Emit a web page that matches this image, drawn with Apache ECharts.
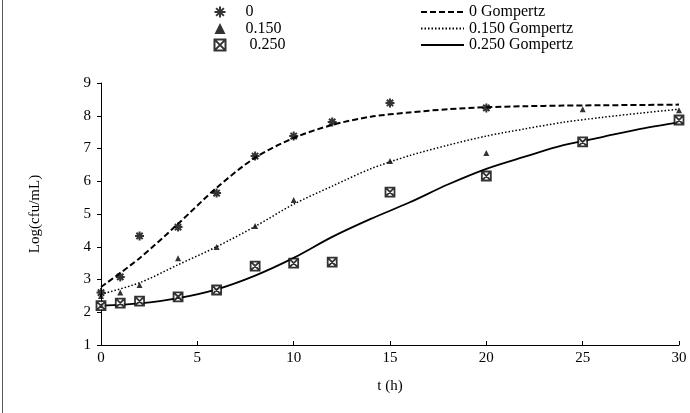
<!DOCTYPE html>
<html>
<head>
<meta charset="utf-8">
<script src="https://cdn.jsdelivr.net/npm/echarts@6/dist/echarts.min.js"></script>
<style>
  html, body { margin: 0; padding: 0; background: #fff; }
  #chart { width: 690px; height: 413px; }
</style>
</head>
<body>
<div id="chart"></div>
<script>
// observed points (t in h, log cfu/mL)
const obs0 = [[0, 2.6], [1, 3.08], [2, 4.33], [4, 4.6], [6, 5.64], [8, 6.77], [10, 7.38], [12, 7.81], [15, 8.39], [20, 8.24]];
const obs150 = [[0, 2.5], [1, 2.6], [2, 2.83], [4, 3.65], [6, 3.99], [8, 4.63], [10, 5.43], [15, 6.62], [20, 6.86], [25, 8.2], [30, 8.17]];
const obs250 = [[0, 2.2], [1, 2.28], [2, 2.34], [4, 2.47], [6, 2.68], [8, 3.41], [10, 3.5], [12, 3.53], [15, 5.67], [20, 6.16], [25, 7.2], [30, 7.87]];

// fitted Gompertz curves, every 2 h
const fitT = [0, 2, 4, 6, 8, 10, 12, 14, 16, 18, 20, 22, 24, 26, 28, 30];
const fit0 = [2.77, 3.65, 4.7, 5.8, 6.72, 7.32, 7.72, 7.97, 8.1, 8.2, 8.26, 8.29, 8.31, 8.32, 8.33, 8.34];
const fit150 = [2.55, 2.9, 3.45, 4.0, 4.62, 5.3, 5.85, 6.38, 6.78, 7.1, 7.38, 7.6, 7.8, 7.95, 8.08, 8.2];
const fit250 = [2.2, 2.27, 2.43, 2.7, 3.12, 3.66, 4.3, 4.85, 5.35, 5.9, 6.38, 6.75, 7.1, 7.35, 7.6, 7.8];

const names = ['0', '0.150', ' 0.250'];
const fitNames = ['0 Gompertz', '0.150 Gompertz', '0.250 Gompertz'];

const font = 'Liberation Serif, Times New Roman, serif';
const asterisk = 'path://M0,5L10,5M5,0L5,10M1.5,1.5L8.5,8.5M8.5,1.5L1.5,8.5';
const boxX = 'path://M0,0L10,0L10,10L0,10ZM1,1L9,9M9,1L1,9';

const pairs = (ys) => fitT.map((t, i) => [t, ys[i]]);

const chart = echarts.init(document.getElementById('chart'));

chart.setOption({
  animation: false,
  textStyle: { fontFamily: font, color: '#000' },
  grid: { left: 101, right: 11, top: 83, bottom: 68 },
  legend: [
    {
      data: names,
      orient: 'vertical',
      left: 212,
      top: 4,
      padding: 0,
      itemGap: 0.5,
      itemWidth: 11,
      itemHeight: 11,
      textStyle: { fontFamily: font, fontSize: 16, lineHeight: 15, color: '#000', padding: [0, 0, 0, 15] }
    },
    {
      data: fitNames,
      orient: 'vertical',
      left: 420,
      top: 4,
      padding: 0,
      itemGap: 0.5,
      itemWidth: 43,
      itemHeight: 11,
      textStyle: { fontFamily: font, fontSize: 16, lineHeight: 15, color: '#000' }
    }
  ],
  xAxis: {
    type: 'value',
    min: 0, max: 30, interval: 5,
    name: 't (h)',
    nameLocation: 'middle',
    nameGap: 34,
    nameTextStyle: { fontFamily: font, fontSize: 15, color: '#000' },
    axisLine: { lineStyle: { color: '#000', width: 1 } },
    axisTick: { inside: true, length: 4, lineStyle: { color: '#000' } },
    axisLabel: { fontFamily: font, fontSize: 15, color: '#000', margin: 6 },
    splitLine: { show: false }
  },
  yAxis: {
    type: 'value',
    min: 1, max: 9, interval: 1,
    name: 'Log(cfu/mL)',
    nameLocation: 'middle',
    nameGap: 58,
    nameTextStyle: { fontFamily: font, fontSize: 15, color: '#000' },
    axisLine: { show: true, lineStyle: { color: '#000', width: 1 } },
    axisTick: { show: true, length: 4, lineStyle: { color: '#000' } },
    axisLabel: { fontFamily: font, fontSize: 15, color: '#000', margin: 10 },
    splitLine: { show: false }
  },
  graphic: [
    { type: 'line', shape: { x1: 2.5, y1: 0, x2: 2.5, y2: 413 }, style: { stroke: '#555', lineWidth: 1 } }
  ],
  series: [
    {
      name: fitNames[0], type: 'line', data: pairs(fit0), smooth: 0.3, symbol: 'none',
      itemStyle: { color: 'rgba(0,0,0,0)' },
      lineStyle: { color: '#000', width: 2, type: [6, 3] }, z: 2
    },
    {
      name: fitNames[1], type: 'line', data: pairs(fit150), smooth: 0.3, symbol: 'none',
      itemStyle: { color: 'rgba(0,0,0,0)' },
      lineStyle: { color: '#000', width: 1.5, type: [1.5, 2] }, z: 2
    },
    {
      name: fitNames[2], type: 'line', data: pairs(fit250), smooth: 0.3, symbol: 'none',
      itemStyle: { color: 'rgba(0,0,0,0)' },
      lineStyle: { color: '#000', width: 1.8, type: 'solid' }, z: 2
    },
    {
      name: names[0], type: 'scatter', data: obs0, symbol: asterisk, symbolSize: 9,
      itemStyle: { color: 'none', borderColor: '#000', borderWidth: 2 }, z: 3
    },
    {
      name: names[1], type: 'scatter', data: obs150, symbol: 'triangle', symbolSize: 6,
      itemStyle: { color: '#000' }, z: 3
    },
    {
      name: names[2], type: 'scatter', data: obs250, symbol: boxX, symbolSize: 9,
      itemStyle: { color: '#fff', borderColor: '#000', borderWidth: 1.8 }, z: 3
    }
  ]
});
</script>
</body>
</html>
